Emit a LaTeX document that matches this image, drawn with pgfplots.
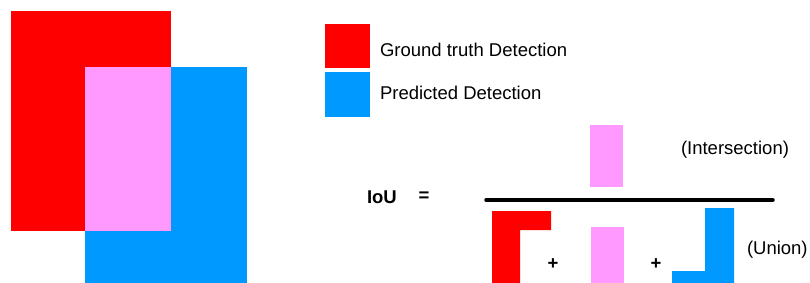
\documentclass[border=0pt]{standalone}
\usepackage{pgfplots}
\pgfplotsset{compat=1.18}
\usepackage{fontspec}
\setmainfont{Liberation Sans}
\definecolor{gtred}{HTML}{FF0000}
\definecolor{prblue}{HTML}{0099FF}
\definecolor{inpink}{HTML}{FF99FF}
\newcommand\lblfont{\fontsize{18.5}{22}\selectfont}
\tikzset{lbl/.style={inner sep=0pt, outer sep=0pt, font=\lblfont}}
\begin{document}
\begin{tikzpicture}
\begin{axis}[
  at={(0,0)}, anchor=south west,
  scale only axis, width=810pt, height=283pt,
  xmin=0, xmax=810, ymin=0, ymax=283,
  y dir=reverse, hide axis, clip=false,
]
% invisible frame for the picture size
\addplot[draw=none, fill=none] coordinates {(0,0) (810,0) (810,283) (0,283)} -- cycle;
% left overlap picture
\addplot[fill=gtred, draw=none] coordinates {(11,11) (171,11) (171,231) (11,231)} -- cycle;
\addplot[fill=prblue, draw=none] coordinates {(85,67) (247,67) (247,283) (85,283)} -- cycle;
\addplot[fill=inpink, draw=none] coordinates {(85,67) (171,67) (171,231) (85,231)} -- cycle;
% legend squares
\addplot[fill=gtred, draw=none] coordinates {(325,24) (370,24) (370,68) (325,68)} -- cycle;
\addplot[fill=prblue, draw=none] coordinates {(325,72) (370,72) (370,117) (325,117)} -- cycle;
% numerator
\addplot[fill=inpink, draw=none] coordinates {(590,125) (623,125) (623,187) (590,187)} -- cycle;
% fraction bar
\addplot[black, line width=3.5pt, line cap=round] coordinates {(486,200) (773,200)};
% denominator
\addplot[fill=gtred, draw=none] coordinates {(492,211) (551,211) (551,230) (520,230) (520,283) (492,283)} -- cycle;
\addplot[fill=inpink, draw=none] coordinates {(591,227) (624,227) (624,283) (591,283)} -- cycle;
\addplot[fill=prblue, draw=none] coordinates {(705,208) (734,208) (734,283) (672,283) (672,271) (705,271)} -- cycle;
% texts
\node[lbl, anchor=base west] at (axis cs:380,57) {Ground truth Detection};
\node[lbl, anchor=base west] at (axis cs:380,100) {Predicted Detection};
\node[lbl, anchor=base west] at (axis cs:681,154) {(Intersection)};
\node[lbl, anchor=base west] at (axis cs:747,254) {(Union)};
\node[lbl, anchor=base west] at (axis cs:367,203) {\bfseries IoU};
\node[lbl, anchor=center] at (axis cs:424,197) {\bfseries =};
\node[lbl, anchor=center] at (axis cs:553,264) {\bfseries +};
\node[lbl, anchor=center] at (axis cs:656,264) {\bfseries +};
\end{axis}
\end{tikzpicture}
\end{document}
